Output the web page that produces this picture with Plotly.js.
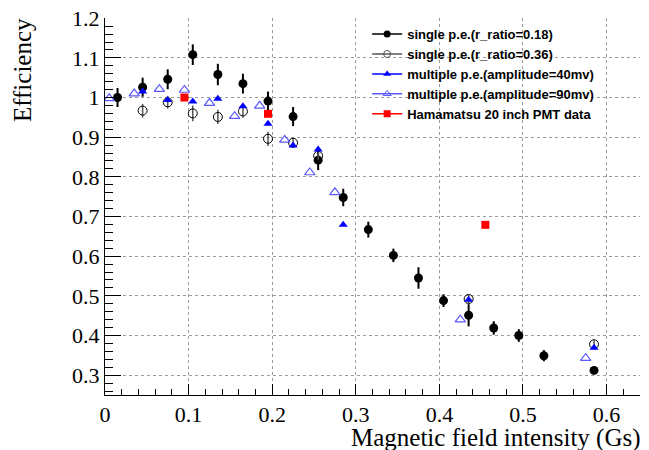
<!DOCTYPE html>
<html>
<head>
<meta charset="utf-8">
<script src="https://cdn.plot.ly/plotly-3.0.1.min.js"></script>
<style>html,body{margin:0;padding:0;background:#fff}#chart{width:649px;height:450px}</style>
</head>
<body>
<div id="chart"></div>
<script>
// single p.e. (r_ratio=0.18)
var xSingle18 = [0.015,0.045,0.075,0.105,0.135,0.165,0.195,0.225,0.255,0.285,0.315,0.345,0.375,0.405,0.435,0.465,0.495,0.525,0.585];
var ySingle18 = [1.000,1.026,1.046,1.108,1.058,1.035,0.991,0.952,0.842,0.748,0.667,0.602,0.545,0.488,0.451,0.419,0.400,0.349,0.312];
var eSingle18 = [0.024,0.024,0.025,0.026,0.027,0.025,0.024,0.024,0.025,0.022,0.020,0.017,0.027,0.016,0.028,0.017,0.016,0.014,0.008];
// single p.e. (r_ratio=0.36)
var xSingle36 = [0.045,0.075,0.105,0.135,0.165,0.195,0.225,0.255,0.435,0.585];
var ySingle36 = [0.967,0.988,0.960,0.951,0.965,0.896,0.886,0.853,0.492,0.378];
var eSingle36 = [0.017,0.016,0.020,0.018,0.016,0.018,0.012,0.012,0.010,0.010];
// multiple p.e. (amplitude=40mv)
var xMulti40 = [0.045,0.075,0.105,0.135,0.165,0.195,0.225,0.255,0.285,0.435,0.585];
var yMulti40 = [1.015,0.994,0.990,0.997,0.978,0.934,0.879,0.869,0.679,0.490,0.369];
// multiple p.e. (amplitude=90mv)
var xMulti90 = [0.005,0.035,0.065,0.095,0.125,0.155,0.185,0.215,0.245,0.275,0.425,0.575];
var yMulti90 = [0.998,1.010,1.021,1.019,0.986,0.953,0.979,0.893,0.811,0.761,0.440,0.343];
// Hamamatsu 20 inch PMT data
var xHama = [0.095,0.195,0.455];
var yHama = [1.000,0.959,0.679];

var names = ['single p.e.(r_ratio=0.18)','single p.e.(r_ratio=0.36)','multiple p.e.(amplitude=40mv)','multiple p.e.(amplitude=90mv)','Hamamatsu 20 inch PMT data'];

var cBlack = '#000000', cGray = '#555555', cBlue = '#0000ff', cLBlue = '#5a5aff', cRed = '#ff0000';

var traces = [
  {x:xSingle18, y:ySingle18, mode:'markers', showlegend:false,
   marker:{symbol:'circle', size:9, color:cBlack},
   error_y:{type:'data', array:eSingle18, color:cBlack, thickness:2, width:0}},
  {x:xSingle36, y:ySingle36, mode:'markers', showlegend:false,
   marker:{symbol:'circle-open', size:9, color:cBlack, line:{width:1, color:cBlack}},
   error_y:{type:'data', array:eSingle36, color:cGray, thickness:1.5, width:0}},
  {x:xMulti40, y:yMulti40, mode:'markers', showlegend:false,
   marker:{symbol:'triangle-up', size:8, color:cBlue}},
  {x:xMulti90, y:yMulti90, mode:'markers', showlegend:false,
   marker:{symbol:'triangle-up-open', size:9, color:cLBlue, line:{width:1.2, color:cLBlue}}},
  {x:xHama, y:yHama, mode:'markers', showlegend:false,
   marker:{symbol:'square', size:8, color:cRed}}
];
// legend-only entries (line + marker, like the reference legend)
var legStyles = [
  {c:cBlack, s:'circle'}, {c:cGray, s:'circle-open'}, {c:cBlue, s:'triangle-up'}, {c:cLBlue, s:'triangle-up-open'}, {c:cRed, s:'square'}
];
for (var i=0;i<names.length;i++){
  traces.push({x:[null], y:[null], mode:'lines+markers', name:names[i], showlegend:true,
    line:{color:legStyles[i].c, width:1.5},
    marker:{symbol:legStyles[i].s, size:7, color:legStyles[i].c}});
}

var tickFont = {family:'Liberation Serif', size:22, color:'#000'};
var layout = {
  width:649, height:450,
  margin:{l:105, r:9, t:18, b:55},
  paper_bgcolor:'#fff', plot_bgcolor:'#fff',
  showlegend:true,
  legend:{x:0.49, y:0.997, xanchor:'left', yanchor:'top', bgcolor:'rgba(0,0,0,0)',
          font:{family:'Liberation Sans', size:13, color:'#000', weight:'bold'},
          tracegroupgap:0, itemclick:false},
  xaxis:{range:[0,0.64], tick0:0, dtick:0.1, ticks:'inside', ticklen:11, tickwidth:1, tickcolor:'#000',
         showline:true, linecolor:'#000', linewidth:1, zeroline:false,
         showgrid:true, gridcolor:'#9a9a9a', griddash:'dot', gridwidth:1,
         tickfont:tickFont,
         minor:{dtick:0.02, ticks:'inside', ticklen:6, tickcolor:'#000', showgrid:false}},
  yaxis:{range:[0.25,1.2005], tick0:0, dtick:0.1, ticks:'inside', ticklen:16, tickwidth:1, tickcolor:'#000',
         showline:true, linecolor:'#000', linewidth:1, zeroline:false,
         showgrid:true, gridcolor:'#9a9a9a', griddash:'dot', gridwidth:1,
         tickfont:tickFont,
         minor:{dtick:0.02, ticks:'inside', ticklen:8, tickcolor:'#000', showgrid:false}},
  annotations:[
    {text:'Magnetic field intensity (Gs)', xref:'paper', yref:'paper', x:1, y:0,
     xanchor:'right', yanchor:'middle', xshift:3, yshift:-43, showarrow:false,
     font:{family:'Liberation Serif', size:25, color:'#000'}},
    {text:'Efficiency', xref:'paper', yref:'paper', x:-0.155, y:0.862, textangle:-90,
     xanchor:'center', yanchor:'middle', showarrow:false,
     font:{family:'Liberation Serif', size:25, color:'#000'}}
  ]
};
Plotly.newPlot('chart', traces, layout, {staticPlot:true, displayModeBar:false});
</script>
</body>
</html>
